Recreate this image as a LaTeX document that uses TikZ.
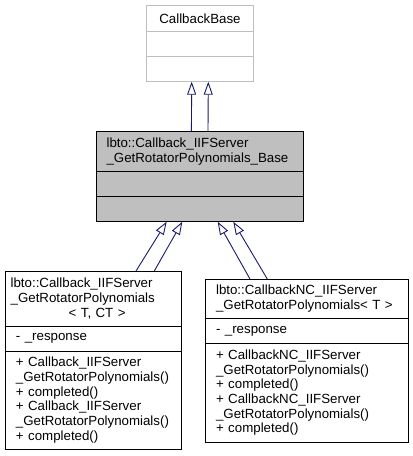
\documentclass[tikz,border=0pt]{standalone}
\usepackage{fontspec}
\setmainfont{Liberation Sans}
\usetikzlibrary{positioning,arrows.meta}

\definecolor{edgeblue}{HTML}{191970}
\definecolor{basegray}{HTML}{BFBFBF}
\newcommand{\classfont}{\fontsize{13.3}{14.7}\selectfont}

\begin{document}
\begin{tikzpicture}[x=1pt, y=-1pt,
    box/.style={draw, rectangle, line width=0.9pt, outer sep=0pt, font=\classfont, inner ysep=0pt, inner xsep=11pt, align=left},
    inh/.style={draw=edgeblue, line width=0.9pt, -{Triangle[length=13pt, width=9pt, fill=white]}}]

  \useasboundingbox (0,0) rectangle (413,456);

  % CallbackBase
  \node[box, draw=basegray, anchor=north, text width=84.7pt, minimum height=26pt, align=center] (cbt) at (200,5.7) {CallbackBase};
  \node[box, draw=basegray, below=0pt of cbt, minimum width=106.7pt, minimum height=25pt] (cba) {};
  \node[box, draw=basegray, below=0pt of cba, minimum width=106.7pt, minimum height=25pt] (cbm) {};

  % Base class
  \node[box, fill=basegray, anchor=north, inner xsep=10.5pt, text width=186.3pt, minimum height=40.7pt] (bt) at (199.7,131)
    {lbto::Callback\_IIFServer\\\_GetRotatorPolynomials\_Base};
  \node[box, fill=basegray, below=0pt of bt, minimum width=207.3pt, minimum height=25pt] (ba) {};
  \node[box, fill=basegray, below=0pt of ba, minimum width=207.3pt, minimum height=25pt] (bm) {};

  % Callback_IIFServer_GetRotatorPolynomials
  \node[box, anchor=north, inner xsep=5.7pt, text width=165.3pt, minimum height=55pt] (lt) at (93.3,271)
    {lbto::Callback\_IIFServer\\\_GetRotatorPolynomials\\\hspace*{58pt}< T, CT >};
  \node[box, below=0pt of lt, text width=154.7pt, minimum height=25pt] (la) {- \_response};
  \node[box, below=0pt of la, text width=154.7pt, minimum height=98.3pt] (lm)
    {+ Callback\_IIFServer\\\_GetRotatorPolynomials()\\+ completed()\\+ Callback\_IIFServer\\\_GetRotatorPolynomials()\\+ completed()};

  % CallbackNC_IIFServer_GetRotatorPolynomials
  \node[box, anchor=north, text width=181.3pt, minimum height=39.3pt] (rt) at (306.7,279)
    {lbto::CallbackNC\_IIFServer\\\_GetRotatorPolynomials< T >};
  \node[box, below=0pt of rt, text width=181.3pt, minimum height=25pt] (ra) {- \_response};
  \node[box, below=0pt of ra, text width=181.3pt, minimum height=99pt] (rm)
    {+ CallbackNC\_IIFServer\\\_GetRotatorPolynomials()\\+ completed()\\+ CallbackNC\_IIFServer\\\_GetRotatorPolynomials()\\+ completed()};

  % Inheritance
  \draw[inh] ([xshift=-8.3pt]bt.north) -- ([xshift=-8.3pt]cbm.south);
  \draw[inh] ([xshift=8.3pt]bt.north) -- ([xshift=8.3pt]cbm.south);
  \draw[inh] ([xshift=42.7pt]lt.north) -- ([xshift=-33pt]bm.south);
  \draw[inh] ([xshift=61pt]lt.north) -- ([xshift=-17.4pt]bm.south);
  \draw[inh] ([xshift=-56.7pt]rt.north) -- ([xshift=18pt]bm.south);
  \draw[inh] ([xshift=-39.4pt]rt.north) -- ([xshift=33.6pt]bm.south);

\end{tikzpicture}
\end{document}
